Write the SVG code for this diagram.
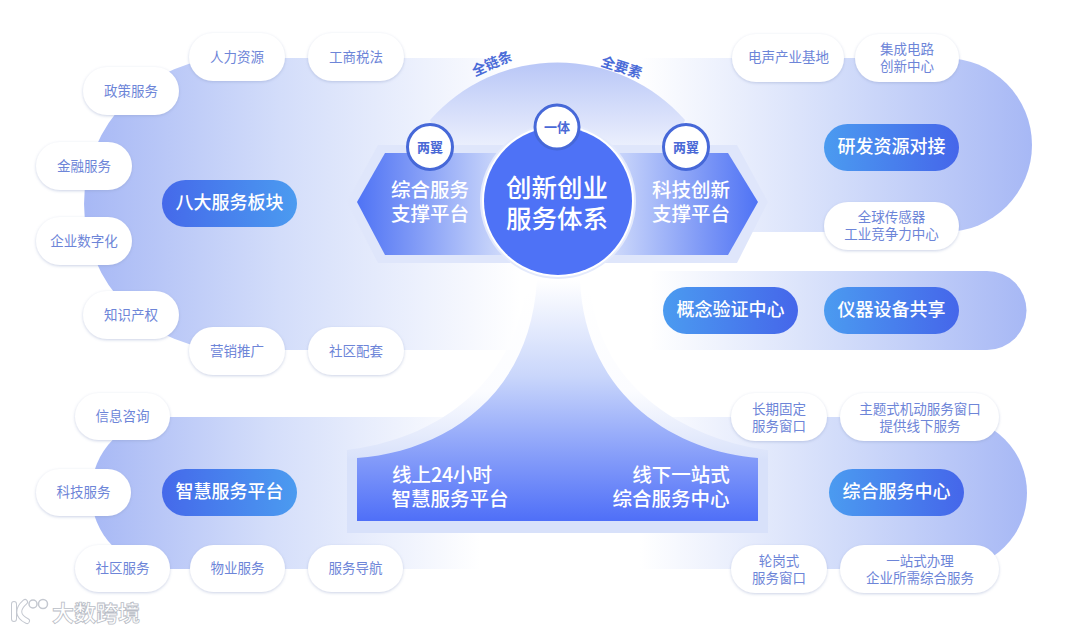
<svg xmlns="http://www.w3.org/2000/svg" width="1080" height="632" viewBox="0 0 1080 632">
<style>
text{font-family:"Noto Sans CJK SC","Noto Sans",sans-serif;text-anchor:middle}
.w rect{fill:#fff;filter:url(#sh)}
.w text{font-size:13.5px;fill:#6d85d8;font-weight:400}
.b text{font-size:18px;fill:#fff;font-weight:500}
.h{font-size:19.5px;fill:#fff;font-weight:500}
.m{font-size:25.5px;fill:#fff;font-weight:500}
.c circle{fill:#fff;stroke:#4668d8;stroke-width:3}
.c text{font-size:13px;font-weight:700;fill:#4a69d6}
.a{font-size:14px;font-weight:700;fill:#4a6bd8}
</style>
<defs>
<filter id="sh" x="-20%" y="-30%" width="140%" height="170%"><feDropShadow dx="0" dy="1" stdDeviation="1.6" flood-color="#8c9bc8" flood-opacity=".45"/></filter>
<linearGradient id="bl" x1="0" x2="1" y1="0" y2="0"><stop offset="0" stop-color="#a7b8f5"/><stop offset=".45" stop-color="#d3ddfa"/><stop offset="1" stop-color="#fff"/></linearGradient>
<linearGradient id="br" x1="1" x2="0" y1="0" y2="0"><stop offset="0" stop-color="#a7b8f5"/><stop offset=".5" stop-color="#d3ddfa"/><stop offset="1" stop-color="#fff"/></linearGradient>
<linearGradient id="pb" x1="0" x2="1" y1="0" y2="0"><stop offset="0" stop-color="#4b9bf0"/><stop offset="1" stop-color="#4566ea"/></linearGradient>
<linearGradient id="pr" x1="0" x2="1" y1="0" y2="0"><stop offset="0" stop-color="#4569ea"/><stop offset="1" stop-color="#4b9bf0"/></linearGradient>
<linearGradient id="dome" x1="0" x2="0" y1="0" y2="1"><stop offset="0" stop-color="#b9c7f7"/><stop offset=".6" stop-color="#f5f7fe"/><stop offset="1" stop-color="#fff" stop-opacity="0"/></linearGradient>
<linearGradient id="hl" x1="0" x2="1" y1="0" y2="0"><stop offset="0" stop-color="#4f73f5"/><stop offset=".35" stop-color="#7c97f6"/><stop offset="1" stop-color="#d5dffb"/></linearGradient>
<linearGradient id="hr" x1="1" x2="0" y1="0" y2="0"><stop offset="0" stop-color="#4f73f5"/><stop offset=".35" stop-color="#7c97f6"/><stop offset="1" stop-color="#d5dffb"/></linearGradient>
<linearGradient id="tr" gradientUnits="userSpaceOnUse" x1="0" x2="0" y1="280" y2="521"><stop offset="0" stop-color="#fff"/><stop offset=".4" stop-color="#c9d6fb"/><stop offset="1" stop-color="#4f6ff8"/></linearGradient>
<linearGradient id="th" gradientUnits="userSpaceOnUse" x1="0" x2="0" y1="290" y2="460"><stop offset="0" stop-color="#fff"/><stop offset=".6" stop-color="#fbfcff"/><stop offset="1" stop-color="#d8e1fa"/></linearGradient>
</defs>

<g id="bands">
<path d="M230 58H520V350H230A146 146 0 0 1 230 58Z" fill="url(#bl)"/>
<path d="M945 58H640V232H945A87 87 0 0 0 945 58Z" fill="url(#br)"/>
<path d="M987 271H650V350H987A39.500 39.500 0 0 0 987 271Z" fill="url(#br)"/>
<path d="M167 417H480V569H167A76 76 0 0 1 167 417Z" fill="url(#bl)"/>
<path d="M951 417H640V569H951A76 76 0 0 0 951 417Z" fill="url(#br)"/>
</g>

<g id="dome"><path d="M430 120A170 170 0 0 1 685 120L640 230H475Z" fill="url(#dome)"/>
<text class="a" transform="translate(494 68) rotate(-24)">全链条</text>
<text class="a" transform="translate(620 72) rotate(18)">全要素</text></g>

<g id="trunk">
<path d="M347 450C430 440 515 390 527 280H590C595 390 690 440 768 450V533H347Z" fill="url(#th)"/>
<path d="M357 458C440 452 530 400 537 280H580C585 400 680 452 758 458V521H357Z" fill="url(#tr)"/>
<text class="h" x="442" y="482">线上24小时</text>
<text class="h" x="450" y="506">智慧服务平台</text>
<text class="h" x="681" y="482">线下一站式</text>
<text class="h" x="671" y="506">综合服务中心</text>
</g>

<g id="wing-left">
<path d="M347 202L378 145H510V263H378Z" fill="#dfe6fb"/>
<path d="M357 202L385 153H510V255H385Z" fill="url(#hl)"/>
<text class="h" x="430" y="197">综合服务</text>
<text class="h" x="430" y="221">支撑平台</text>
</g>
<g id="wing-right">
<path d="M768 202L737 145H605V263H737Z" fill="#dfe6fb"/>
<path d="M758 202L728 153H605V255H728Z" fill="url(#hr)"/>
<text class="h" x="691" y="197">科技创新</text>
<text class="h" x="691" y="221">支撑平台</text>
</g>

<g id="core">
<circle cx="558" cy="201" r="78" fill="#e4eafc"/>
<circle cx="558" cy="201" r="76" fill="#fff"/>
<circle cx="558" cy="201" r="74" fill="#4e72f6"/>
<text class="m" x="557" y="197">创新创业</text>
<text class="m" x="557" y="228">服务体系</text>
</g>
<g id="badge-center" class="c"><circle cx="557" cy="127" r="22"/><text x="557" y="132">一体</text></g>
<g id="badge-left" class="c"><circle cx="430" cy="147" r="22.500"/><text x="430" y="152">两翼</text></g>
<g id="badge-right" class="c"><circle cx="686" cy="147" r="22.500"/><text x="686" y="152">两翼</text></g>

<g id="n1" class="w"><rect x="189" y="33" width="96" height="48" rx="24"/><text x="237" y="62">人力资源</text></g>
<g id="n2" class="w"><rect x="308" y="33" width="96" height="48" rx="24"/><text x="356" y="62">工商税法</text></g>
<g id="n3" class="w"><rect x="83" y="67" width="96" height="48" rx="24"/><text x="131" y="96">政策服务</text></g>
<g id="n4" class="w"><rect x="36" y="142" width="96" height="48" rx="24"/><text x="84" y="171">金融服务</text></g>
<g id="n5" class="w"><rect x="36" y="217" width="96" height="48" rx="24"/><text x="84" y="246">企业数字化</text></g>
<g id="n6" class="w"><rect x="83" y="291" width="96" height="48" rx="24"/><text x="131" y="320">知识产权</text></g>
<g id="n7" class="w"><rect x="189" y="327" width="96" height="48" rx="24"/><text x="237" y="356">营销推广</text></g>
<g id="n8" class="w"><rect x="308" y="327" width="96" height="48" rx="24"/><text x="356" y="356">社区配套</text></g>
<g id="n9" class="w"><rect x="732" y="34" width="112" height="48" rx="24"/><text x="788.500" y="62">电声产业基地</text></g>
<g id="n10" class="w"><rect x="855" y="34" width="104" height="48" rx="24"/><text x="907" y="54">集成电路</text><text x="907" y="71">创新中心</text></g>
<g id="n11" class="w"><rect x="824" y="202" width="135" height="48" rx="24"/><text x="891.500" y="222">全球传感器</text><text x="891.500" y="239">工业竞争力中心</text></g>
<g id="n12" class="w"><rect x="75" y="393" width="95" height="47" rx="23.500"/><text x="122.500" y="421">信息咨询</text></g>
<g id="n13" class="w"><rect x="36" y="469" width="95" height="47" rx="23.500"/><text x="83.500" y="497">科技服务</text></g>
<g id="n14" class="w"><rect x="75" y="545" width="95" height="47" rx="23.500"/><text x="122.500" y="573">社区服务</text></g>
<g id="n15" class="w"><rect x="190" y="545" width="95" height="47" rx="23.500"/><text x="237.500" y="573">物业服务</text></g>
<g id="n16" class="w"><rect x="308" y="545" width="95" height="47" rx="23.500"/><text x="355.500" y="573">服务导航</text></g>
<g id="n17" class="w"><rect x="731" y="393" width="96" height="48" rx="24"/><text x="779" y="414">长期固定</text><text x="779" y="431">服务窗口</text></g>
<g id="n18" class="w"><rect x="840" y="393" width="159" height="48" rx="24"/><text x="920" y="414">主题式机动服务窗口</text><text x="920" y="431">提供线下服务</text></g>
<g id="n19" class="w"><rect x="731" y="545" width="96" height="48" rx="24"/><text x="779" y="566">轮岗式</text><text x="779" y="583">服务窗口</text></g>
<g id="n20" class="w"><rect x="840" y="545" width="159" height="48" rx="24"/><text x="920" y="566">一站式办理</text><text x="920" y="583">企业所需综合服务</text></g>

<g id="p1" class="b"><rect x="162" y="180" width="135" height="47" rx="23.500" fill="url(#pr)"/><text x="229.500" y="209">八大服务板块</text></g>
<g id="p2" class="b"><rect x="824" y="124" width="135" height="47" rx="23.500" fill="url(#pb)"/><text x="891.500" y="153">研发资源对接</text></g>
<g id="p3" class="b"><rect x="663" y="287" width="135" height="47" rx="23.500" fill="url(#pb)"/><text x="730.500" y="316">概念验证中心</text></g>
<g id="p4" class="b"><rect x="824" y="287" width="135" height="47" rx="23.500" fill="url(#pb)"/><text x="891.500" y="316">仪器设备共享</text></g>
<g id="p5" class="b"><rect x="162" y="469" width="135" height="47" rx="23.500" fill="url(#pr)"/><text x="229.500" y="498">智慧服务平台</text></g>
<g id="p6" class="b"><rect x="829" y="469" width="135" height="47" rx="23.500" fill="url(#pb)"/><text x="896.500" y="498">综合服务中心</text></g>

<g id="watermark">
<g fill="none" stroke="#c4c8d0" stroke-width="6" stroke-linecap="round"><path d="M14 604V619M25 602C17 609 17 616 27 621"/></g>
<g fill="none" stroke="#fff" stroke-width="4" stroke-linecap="round"><path d="M14 604V619M25 602C17 609 17 616 27 621"/></g>
<g fill="#fff" stroke="#c4c8d0" stroke-width="1.500"><circle cx="33" cy="604" r="4"/><circle cx="43" cy="604" r="4.500"/></g>
<text x="96" y="621" style="font-size:22px;font-weight:700;fill:#fff;stroke:#b9bdc6;stroke-width:.8px">大数跨境</text>
</g>
</svg>
